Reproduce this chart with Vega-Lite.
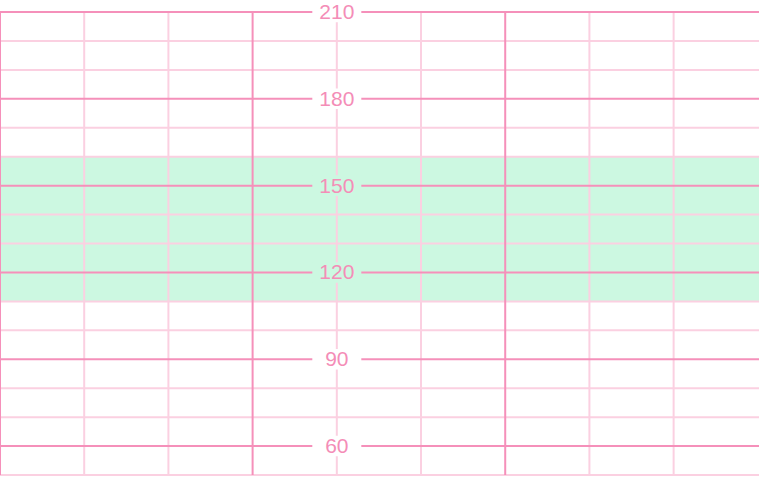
{
  "$schema": "https://vega.github.io/schema/vega-lite/v6.json",
  "width": 759,
  "height": 463,
  "autosize": {"type": "none"},
  "padding": {"left": 0, "top": 12, "right": 0, "bottom": 17},
  "background": "white",
  "config": {"view": {"stroke": null}},
  "datasets": {
    "band": [{"low": 110, "high": 160}],
    "hlines": [
      {"bpm": 50, "kind": "minor"}, {"bpm": 60, "kind": "major"}, {"bpm": 70, "kind": "minor"},
      {"bpm": 80, "kind": "minor"}, {"bpm": 90, "kind": "major"}, {"bpm": 100, "kind": "minor"},
      {"bpm": 110, "kind": "minor"}, {"bpm": 120, "kind": "major"}, {"bpm": 130, "kind": "minor"},
      {"bpm": 140, "kind": "minor"}, {"bpm": 150, "kind": "major"}, {"bpm": 160, "kind": "minor"},
      {"bpm": 170, "kind": "minor"}, {"bpm": 180, "kind": "major"}, {"bpm": 190, "kind": "minor"},
      {"bpm": 200, "kind": "minor"}, {"bpm": 210, "kind": "major"}
    ],
    "vlines": [
      {"t": 0, "kind": "major"}, {"t": 1, "kind": "minor"}, {"t": 2, "kind": "minor"},
      {"t": 3, "kind": "major"}, {"t": 4, "kind": "minor"}, {"t": 5, "kind": "minor"},
      {"t": 6, "kind": "major"}, {"t": 7, "kind": "minor"}, {"t": 8, "kind": "minor"}
    ],
    "labels": [
      {"t": 4, "bpm": 60, "label": "60"}, {"t": 4, "bpm": 90, "label": "90"},
      {"t": 4, "bpm": 120, "label": "120"}, {"t": 4, "bpm": 150, "label": "150"},
      {"t": 4, "bpm": 180, "label": "180"}, {"t": 4, "bpm": 210, "label": "210"}
    ]
  },
  "layer": [
    {
      "data": {"name": "band"},
      "mark": {"type": "rect", "color": "#ccf8e1"},
      "encoding": {
        "y": {"field": "low", "type": "quantitative", "scale": {"domain": [50, 210], "nice": false, "zero": false}, "axis": null},
        "y2": {"field": "high"}
      }
    },
    {
      "data": {"name": "hlines"},
      "transform": [{"filter": "datum.kind === 'minor'"}],
      "mark": {"type": "rule", "color": "#fbd0e1", "strokeWidth": 2},
      "encoding": {"y": {"field": "bpm", "type": "quantitative"}}
    },
    {
      "data": {"name": "vlines"},
      "transform": [{"filter": "datum.kind === 'minor'"}],
      "mark": {"type": "rule", "color": "#fbd0e1", "strokeWidth": 2},
      "encoding": {"x": {"field": "t", "type": "quantitative", "scale": {"domain": [0, 9.014], "nice": false, "zero": false}, "axis": null}}
    },
    {
      "data": {"name": "hlines"},
      "transform": [{"filter": "datum.kind === 'major'"}],
      "mark": {"type": "rule", "color": "#f590ba", "strokeWidth": 2},
      "encoding": {"y": {"field": "bpm", "type": "quantitative"}}
    },
    {
      "data": {"name": "vlines"},
      "transform": [{"filter": "datum.kind === 'major'"}],
      "mark": {"type": "rule", "color": "#f590ba", "strokeWidth": 2},
      "encoding": {"x": {"field": "t", "type": "quantitative"}}
    },
    {
      "data": {"name": "labels"},
      "mark": {"type": "point", "shape": "M-1,-0.42H1V0.42H-1Z", "filled": true, "opacity": 1, "size": 2401, "strokeWidth": 0},
      "encoding": {
        "x": {"field": "t", "type": "quantitative"},
        "y": {"field": "bpm", "type": "quantitative"},
        "color": {"condition": {"test": "datum.bpm >= 110 && datum.bpm <= 160", "value": "#ccf8e1"}, "value": "white"}
      }
    },
    {
      "data": {"name": "labels"},
      "mark": {"type": "text", "color": "#f48db7", "font": "Liberation Sans", "fontSize": 21, "align": "center", "baseline": "middle", "dy": 1},
      "encoding": {
        "x": {"field": "t", "type": "quantitative"},
        "y": {"field": "bpm", "type": "quantitative"},
        "text": {"field": "label"}
      }
    }
  ]
}
